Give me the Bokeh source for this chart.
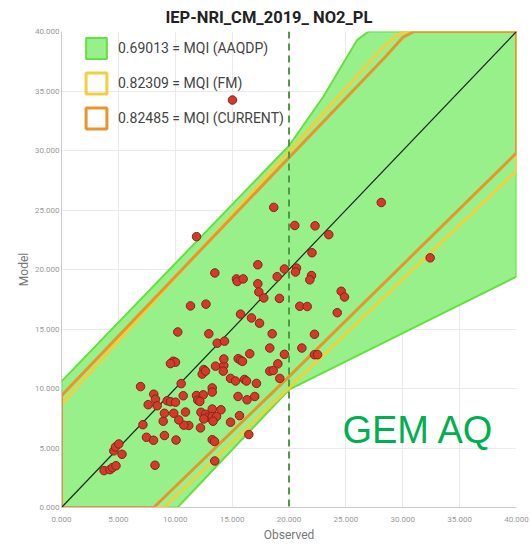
from bokeh.plotting import figure
from bokeh.models import (Range1d, NumeralTickFormatter, FixedTicker, Span, Label,
                          Legend, LegendItem)
from bokeh.embed import file_html
from bokeh.resources import INLINE

title = "IEP-NRI_CM_2019_ NO2_PL"

# observed / model values
obs = [3.74, 4.26, 4.48, 4.79, 5.32, 4.60, 4.75, 5.04, 8.22, 7.16, 7.47, 8.09, 9.05, 10.07,
       13.47, 13.25, 13.45, 16.47, 12.22, 11.19, 10.75, 14.86, 8.94, 10.31, 9.05, 9.87, 10.90,
       12.26, 12.66, 12.81, 12.51, 13.25, 14.02, 13.25, 13.63, 13.32, 15.65, 6.95, 8.11, 8.26,
       7.62, 8.41, 9.29, 9.58, 10.02, 10.52, 10.70, 11.87, 12.46, 11.98, 12.16, 15.52, 16.31,
       16.99, 13.25, 13.25, 14.86, 15.30, 16.09, 16.26, 17.14, 19.19, 12.51, 12.37, 12.66,
       13.54, 14.27, 14.22, 14.27, 15.53, 15.74, 15.91, 16.55, 19.02, 18.31, 18.61, 9.82,
       10.02, 9.58, 10.22, 12.95, 13.69, 14.33, 11.34, 12.70, 15.74, 16.70, 17.41, 18.52,
       22.24, 18.31, 19.60, 21.13, 22.24, 22.51, 18.66, 20.51, 22.29, 23.50, 11.87, 22.02,
       17.26, 19.60, 20.66, 20.57, 13.48, 15.38, 15.45, 15.97, 18.96, 21.98, 21.83, 17.26,
       17.35, 17.78, 19.16, 24.59, 24.88, 20.95, 21.60, 24.24, 28.11, 32.41, 15.03]
mod = [3.10, 3.18, 3.35, 3.51, 4.47, 4.76, 5.09, 5.34, 3.55, 6.96, 5.90, 5.65, 6.05, 5.67,
       3.91, 5.70, 5.55, 6.13, 6.69, 6.89, 6.92, 7.17, 7.25, 7.36, 7.92, 7.92, 8.02,
       8.00, 7.83, 7.58, 7.44, 8.27, 8.21, 7.64, 7.64, 7.25, 7.72, 10.16, 9.52, 9.10,
       8.64, 8.55, 8.97, 8.89, 8.85, 10.41, 9.39, 9.41, 9.47, 9.02, 8.91, 9.33, 9.05,
       9.33, 10.05, 9.70, 10.85, 10.63, 10.76, 10.63, 10.43, 10.85, 11.59, 11.21, 11.46,
       11.88, 11.93, 11.46, 12.48, 12.51, 12.38, 12.28, 12.92, 12.07, 11.46, 11.51, 12.29,
       12.21, 12.09, 14.75, 14.60, 13.81, 13.98, 16.94, 17.09, 16.25, 15.93, 15.49, 14.60,
       14.56, 13.40, 12.87, 13.40, 12.84, 12.84, 25.22, 23.70, 23.67, 22.93, 22.76, 21.41,
       20.40, 20.04, 20.12, 19.79, 19.71, 19.21, 18.99, 19.21, 19.40, 19.49, 19.13, 18.80,
       18.11, 17.61, 17.57, 18.17, 17.69, 16.91, 16.89, 16.37, 25.63, 20.98, 34.24]

# MQI acceptance bands (polygon outlines)
aaqdp_x = [0, 0, 20, 23, 26, 27, 40, 40, 20, 10.2]
aaqdp_y = [0, 10.6, 30.4, 34.5, 39.3, 40, 40, 19.4, 9.9, 0]
fm_x = [0, 0, 28, 29.5, 30.3, 40, 40, 9.0]
fm_y = [0, 8.7, 38.4, 39.7, 40, 40, 28.3, 0]
cur_x = [0, 0, 28.5, 30, 31, 40, 40, 20, 8.1]
cur_y = [0, 9.4, 37.9, 39.5, 40, 40, 29.8, 11.0, 0]

mqi_labels = ["0.69013 = MQI (AAQDP)", "0.82309 = MQI (FM)", "0.82485 = MQI (CURRENT)"]
ticks = [0, 5, 10, 15, 20, 25, 30, 35, 40]
limit_value = 20
one_to_one = [0, 40]

p = figure(width=531, height=544, output_backend="svg", toolbar_location=None,
           x_range=Range1d(0, 40), y_range=Range1d(0, 40),
           min_border_left=61, min_border_right=15, min_border_top=30, min_border_bottom=33,
           title=title)
p.title.align = "left"
p.title.offset = 104
p.title.text_font = "Roboto"
p.title.text_font_size = "16.5px"
p.title.text_font_style = "bold"
p.title.text_color = "#222222"
p.outline_line_color = None
p.background_fill_color = "white"

for ax in (p.xaxis, p.yaxis):
    ax.ticker = FixedTicker(ticks=ticks)
    ax.formatter = NumeralTickFormatter(format="0.000")
    ax.major_label_text_font = "Roboto"
    ax.major_label_text_font_size = "8px"
    ax.major_label_text_color = "#999999"
    ax.major_tick_line_color = None
    ax.minor_tick_line_color = None
    ax.axis_line_color = "#cccccc"
    ax.axis_label_text_font = "Roboto"
    ax.axis_label_text_font_size = "12px"
    ax.axis_label_text_font_style = "normal"
    ax.axis_label_text_color = "#777777"
p.xaxis.axis_label = "Observed"
p.yaxis.axis_label = "Model"
p.xaxis.major_label_standoff = 3
p.xaxis.axis_label_standoff = 3
p.yaxis.major_tick_out = 0
p.yaxis.major_tick_in = 0
p.yaxis.major_label_standoff = 2
p.yaxis.axis_label_standoff = 1
p.grid.grid_line_color = "#eaeaea"
p.grid.ticker = FixedTicker(ticks=ticks)

g = p.patch(aaqdp_x, aaqdp_y, fill_color="#98f08a", fill_alpha=1.0,
            line_color="#66e040", line_width=2)
y_ = p.patch(fm_x, fm_y, fill_alpha=0, line_color="#f0d040", line_width=3)
o = p.patch(cur_x, cur_y, fill_alpha=0, line_color="#e8952e", line_width=3)

p.line(one_to_one, one_to_one, line_color="#1a2a1a", line_width=1.2)
p.add_layout(Span(location=limit_value, dimension="height", line_color="#4f9a45",
                  line_width=2, line_dash="7 5"))
p.scatter(obs, mod, size=8.5, fill_color="#d6382a", line_color="#7a2a1a", line_width=1)

legend = Legend(items=[LegendItem(label=mqi_labels[0], renderers=[g]),
                       LegendItem(label=mqi_labels[1], renderers=[y_]),
                       LegendItem(label=mqi_labels[2], renderers=[o])],
                location=(22, 376), margin=0, padding=0, spacing=9,
                glyph_width=26, glyph_height=26, label_standoff=9,
                label_text_font="Roboto", label_text_font_size="14px",
                label_text_color="#444444", background_fill_alpha=0,
                border_line_color=None)
p.add_layout(legend)

p.add_layout(Label(x=24.7, y=4.76, text="GEM AQ", text_font="Liberation Sans",
                   text_font_size="38px", text_color="#00b050"))

open("out.html", "w").write(file_html(p, INLINE))
